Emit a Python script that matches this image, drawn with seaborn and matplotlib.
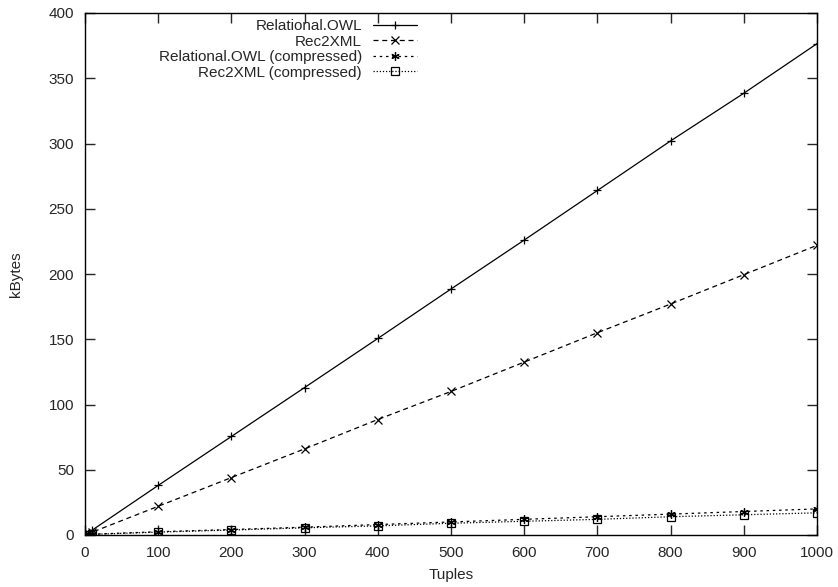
import pandas as pd
import matplotlib
matplotlib.use("Agg")
import matplotlib.pyplot as plt
import seaborn as sns

# data
tuples = [1, 10, 100, 200, 300, 400, 500, 600, 700, 800, 900, 1000]
owl = [0.4, 3.8, 38, 75.5, 113, 150.6, 188.5, 226, 264, 302, 338.5, 376.5]
rec2xml = [0.2, 2.2, 22, 44, 66, 88.5, 110, 132.5, 155, 177, 199.5, 222]
owl_comp = [0.3, 0.6, 2.5, 4.2, 6, 8, 10, 12, 14, 16, 18, 20]
rec2xml_comp = [0.3, 0.5, 2.2, 3.8, 5.5, 7, 9, 10.5, 12, 14, 15.5, 17]

series = {
    "Relational.OWL": (owl, "-", "+"),
    "Rec2XML": (rec2xml, (0, (4, 3)), "x"),
    "Relational.OWL (compressed)": (owl_comp, (0, (2, 3)), (6, 2, 0)),
    "Rec2XML (compressed)": (rec2xml_comp, (0, (1, 1.5)), "s"),
}

sns.set_style("ticks")
plt.rcParams["font.family"] = ["Liberation Sans", "DejaVu Sans"]
fs = 11

fig = plt.figure(figsize=(8.38, 5.87), dpi=100)
ax = fig.add_axes([85 / 838, 1 - 535 / 587, 732 / 838, 522 / 587])

for name, (vals, ls, mk) in series.items():
    df = pd.DataFrame({"Tuples": tuples, "kBytes": vals})
    sns.lineplot(data=df, x="Tuples", y="kBytes", ax=ax, color="black",
                 linestyle=ls, linewidth=0.9, marker=mk, markersize=6,
                 markerfacecolor="none", markeredgecolor="black",
                 markeredgewidth=0.9, label=name)

ax.set_xlim(0, 1000)
ax.set_ylim(0, 400)
ax.set_xticks(range(0, 1001, 100))
ax.set_yticks(range(0, 401, 50))
ax.tick_params(direction="in", top=True, right=True, length=7, width=1,
               labelsize=fs, pad=8)
for s in ax.spines.values():
    s.set_linewidth(1)
    s.set_color("black")
ax.set_xlabel("Tuples", fontsize=fs, labelpad=6)
ax.set_ylabel("kBytes", fontsize=fs, labelpad=18)

ax.legend(loc="upper right", bbox_to_anchor=(417 / 838, 1 - 19 / 587),
          bbox_transform=fig.transFigure, frameon=False,
          markerfirst=False, fontsize=fs, handlelength=2.9, handletextpad=0.7,
          labelspacing=0.1, borderaxespad=0, borderpad=0)

fig.savefig("out.png", dpi=100)
